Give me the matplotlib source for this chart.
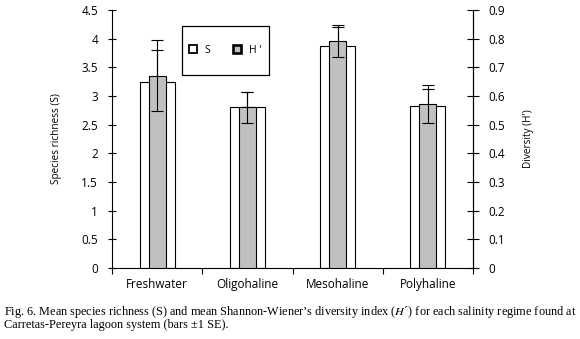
import matplotlib

matplotlib.use("Agg")
import matplotlib.pyplot as plt
import numpy as np
from matplotlib.lines import Line2D
from matplotlib.patches import Rectangle

plt.rcParams["font.family"] = ["Open Sans", "DejaVu Sans"]
plt.rcParams["mathtext.fontset"] = "stix"

categories = ["Freshwater", "Oligohaline", "Mesohaline", "Polyhaline"]
richness = [3.25, 2.81, 3.87, 2.83]
richness_se = [0.55, 0.26, 0.34, 0.30]
diversity = [0.671, 0.560, 0.791, 0.573]
diversity_se = [0.125, 0.055, 0.055, 0.066]
left_ticks = [0, 0.5, 1, 1.5, 2, 2.5, 3, 3.5, 4, 4.5]
left_labels = ["0", "0.5", "1", "1.5", "2", "2.5", "3", "3.5", "4", "4.5"]
right_ticks = [0, 0.1, 0.2, 0.3, 0.4, 0.5, 0.6, 0.7, 0.8, 0.9]
right_labels = ["0", "0.1", "0.2", "0.3", "0.4", "0.5", "0.6", "0.7", "0.8", "0.9"]

W, H = 580, 339
AX_L, AX_R, AX_T, AX_B = 112, 473, 10, 268
fig = plt.figure(figsize=(W / 100, H / 100), dpi=100)
ax = fig.add_axes([AX_L / W, 1 - AX_B / H, (AX_R - AX_L) / W, (AX_B - AX_T) / H])
ax2 = ax.twinx()

x = np.arange(len(categories))
ax.bar(x, richness, width=0.39, color="white", edgecolor="black", linewidth=0.8, zorder=2)
ax.errorbar(x, richness, yerr=[np.zeros(len(x)), richness_se], fmt="none",
            ecolor="black", elinewidth=0.8, capsize=4, capthick=0.8, zorder=3)
ax2.bar(x, diversity, width=0.19, color="#c0c0c0", edgecolor="black", linewidth=0.8, zorder=2)
ax2.errorbar(x, diversity, yerr=diversity_se, fmt="none",
             ecolor="black", elinewidth=0.8, capsize=4, capthick=0.8, zorder=3)

ax.set_xlim(-0.5, len(categories) - 0.5)
ax.set_ylim(0, 4.5)
ax2.set_ylim(0, 0.9)

ax.set_xticks(np.arange(-0.5, len(categories)), minor=False)
ax.set_xticklabels([])
ax.set_xticks(x, minor=True)
ax.set_xticklabels(categories, minor=True, fontsize=8.5)
ax.tick_params(axis="x", which="major", direction="out", length=4, width=0.8)
ax.tick_params(axis="x", which="minor", length=0, pad=7)

ax.set_yticks(left_ticks)
ax.set_yticklabels(left_labels, fontsize=8.5)
ax.tick_params(axis="y", direction="inout", length=6, width=0.8, pad=7)
ax2.set_yticks(right_ticks)
ax2.set_yticklabels(right_labels, fontsize=8.5)
ax2.tick_params(axis="y", direction="inout", length=8, width=0.8, pad=7)

for a in (ax, ax2):
    a.spines["top"].set_visible(False)
    for s in a.spines.values():
        s.set_linewidth(0.8)
ax2.spines["left"].set_visible(False)
ax2.spines["bottom"].set_visible(False)

ax.set_ylabel("Species richness (S)", fontsize=7.2)
ax.yaxis.set_label_coords(-(AX_L - 62) / (AX_R - AX_L), 0.5)
ax2.set_ylabel("Diversity (H')", fontsize=7.2)
ax2.yaxis.set_label_coords(1 + (523 - AX_R) / (AX_R - AX_L), 0.5)

# legend box: frame drawn separately so it can be taller than wide padding allows
bx0, bx1, by0, by1 = 182, 269, 26, 75
aw, ah = AX_R - AX_L, AX_B - AX_T
ax2.add_patch(Rectangle(((bx0 - AX_L) / aw, 1 - (by1 - AX_T) / ah),
                        (bx1 - bx0) / aw, (by1 - by0) / ah, transform=ax2.transAxes,
                        facecolor="white", edgecolor="black", linewidth=0.9, zorder=5))
handles = [Line2D([], [], linestyle="none", marker="s", markersize=5.5,
                  markerfacecolor="white", markeredgecolor="black", markeredgewidth=1.3),
           Line2D([], [], linestyle="none", marker="s", markersize=5.5,
                  markerfacecolor="#c0c0c0", markeredgecolor="black", markeredgewidth=1.9)]
leg = ax2.legend(handles, ["S", "H '"], ncol=2, loc="center",
                 bbox_to_anchor=(((bx0 + bx1) / 2 - AX_L) / aw, 1 - ((by0 + by1) / 2 - AX_T) / ah),
                 fontsize=7.5, frameon=False, handlelength=0.7, borderpad=0,
                 columnspacing=2.2, handletextpad=0.8, borderaxespad=0)
leg.set_zorder(6)

cap1 = ("Fig. 6. Mean species richness (S) and mean Shannon-Wiener\u2019s diversity index ($H$\u00b4) "
        "for each salinity regime found at")
cap2 = "Carretas-Pereyra lagoon system (bars \u00b11 SE)."
fig.text(4 / W, 1 - 312 / H, cap1, fontsize=8.8, family="Liberation Serif", va="center")
fig.text(4 / W, 1 - 325 / H, cap2, fontsize=8.8, family="Liberation Serif", va="center")

fig.savefig("out.png", dpi=100)
